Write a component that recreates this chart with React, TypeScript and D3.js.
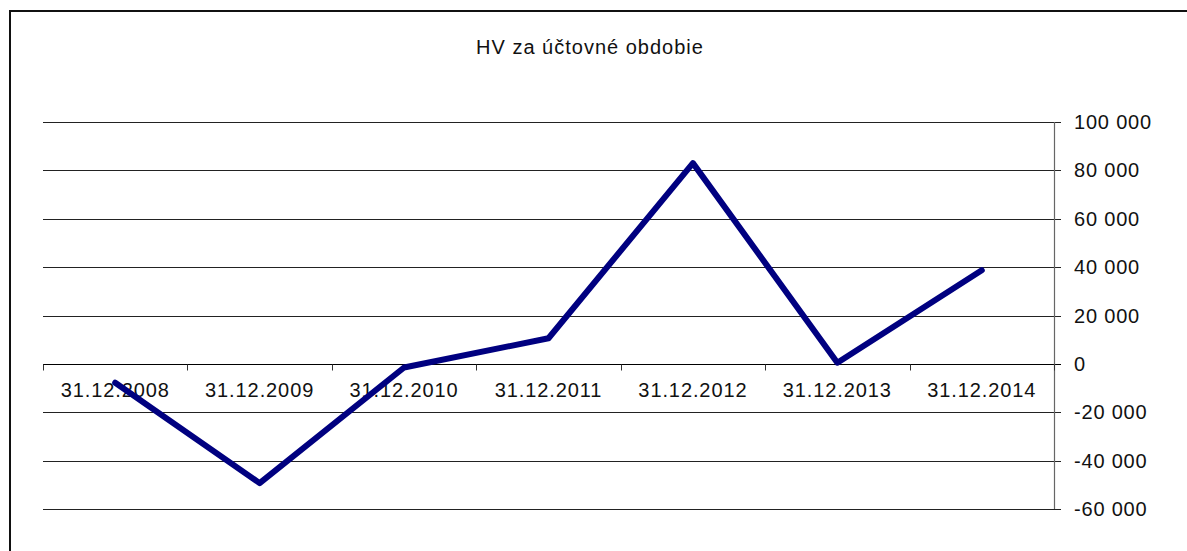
import * as d3 from "d3";
import { useEffect, useRef } from "react";

// data
const categories = [
  "31.12.2008",
  "31.12.2009",
  "31.12.2010",
  "31.12.2011",
  "31.12.2012",
  "31.12.2013",
  "31.12.2014",
];
const values = [-7800, -49300, -1500, 10600, 83000, 500, 38700];
const yTicks = [100000, 80000, 60000, 40000, 20000, 0, -20000, -40000, -60000];
const title = "HV za účtovné obdobie";

const fmt = (v: number) => {
  const s = Math.abs(v).toString().replace(/\B(?=(\d{3})+(?!\d))/g, " ");
  return v < 0 ? "-" + s : s;
};

const App = () => {
  const ref = useRef<SVGSVGElement>(null);

  useEffect(() => {
    const width = 1187,
      height = 551;
    const svg = d3.select(ref.current);
    svg.selectAll("*").remove();

    // outer frame (runs past the right/bottom edges)
    svg
      .append("rect")
      .attr("x", 10)
      .attr("y", 11)
      .attr("width", width + 20)
      .attr("height", height + 20)
      .attr("fill", "#fff")
      .attr("stroke", "#111")
      .attr("stroke-width", 2);

    const x = d3.scaleBand().domain(categories).range([43, 1054]).padding(0);
    const y = d3.scaleLinear().domain([-60000, 100000]).range([509, 122]);

    const font = "'Liberation Sans', Arial, sans-serif";

    // title
    svg
      .append("text")
      .attr("x", 590)
      .attr("y", 54)
      .attr("text-anchor", "middle")
      .attr("font-family", font)
      .attr("font-size", 20)
      .attr("letter-spacing", 1)
      .attr("fill", "#111")
      .text(title);

    // gridlines
    svg
      .append("g")
      .selectAll("line")
      .data(yTicks)
      .join("line")
      .attr("x1", 43)
      .attr("x2", 1061)
      .attr("y1", (d) => Math.round(y(d)) + 0.5)
      .attr("y2", (d) => Math.round(y(d)) + 0.5)
      .attr("stroke", (d) => (d === 0 ? "#000" : "#222"))
      .attr("stroke-width", 1);

    // value axis on the right
    svg
      .append("line")
      .attr("x1", 1054.5)
      .attr("x2", 1054.5)
      .attr("y1", y(100000))
      .attr("y2", y(-60000))
      .attr("stroke", "#666")
      .attr("stroke-width", 1.2);

    svg
      .append("g")
      .selectAll("text")
      .data(yTicks)
      .join("text")
      .attr("x", 1074)
      .attr("y", (d) => y(d) + 7)
      .attr("font-family", font)
      .attr("font-size", 20)
      .attr("letter-spacing", 0.8)
      .attr("fill", "#111")
      .text((d) => fmt(d));

    // category axis ticks at band edges
    const edges = categories.map((c) => x(c) as number).concat([1054]);
    const zeroY = Math.round(y(0)) + 0.5;
    svg
      .append("g")
      .selectAll("line")
      .data(edges)
      .join("line")
      .attr("x1", (d) => Math.round(d) + 0.5)
      .attr("x2", (d) => Math.round(d) + 0.5)
      .attr("y1", zeroY)
      .attr("y2", zeroY + 6)
      .attr("stroke", "#333")
      .attr("stroke-width", 1);

    svg
      .append("g")
      .selectAll("text")
      .data(categories)
      .join("text")
      .attr("x", (d) => (x(d) as number) + x.bandwidth() / 2)
      .attr("y", zeroY + 32)
      .attr("text-anchor", "middle")
      .attr("font-family", font)
      .attr("font-size", 20)
      .attr("letter-spacing", 0.9)
      .attr("fill", "#111")
      .text((d) => d);

    // the series line
    const line = d3
      .line<number>()
      .x((_, i) => (x(categories[i]) as number) + x.bandwidth() / 2)
      .y((d) => y(d));

    svg
      .append("path")
      .datum(values)
      .attr("d", line)
      .attr("fill", "none")
      .attr("stroke", "#000080")
      .attr("stroke-width", 6)
      .attr("stroke-linejoin", "round")
      .attr("stroke-linecap", "round");
  }, []);

  return (
    <svg
      ref={ref}
      width={1187}
      height={551}
      style={{ position: "absolute", left: 0, top: 0, background: "#fff" }}
    />
  );
};

export default App;
